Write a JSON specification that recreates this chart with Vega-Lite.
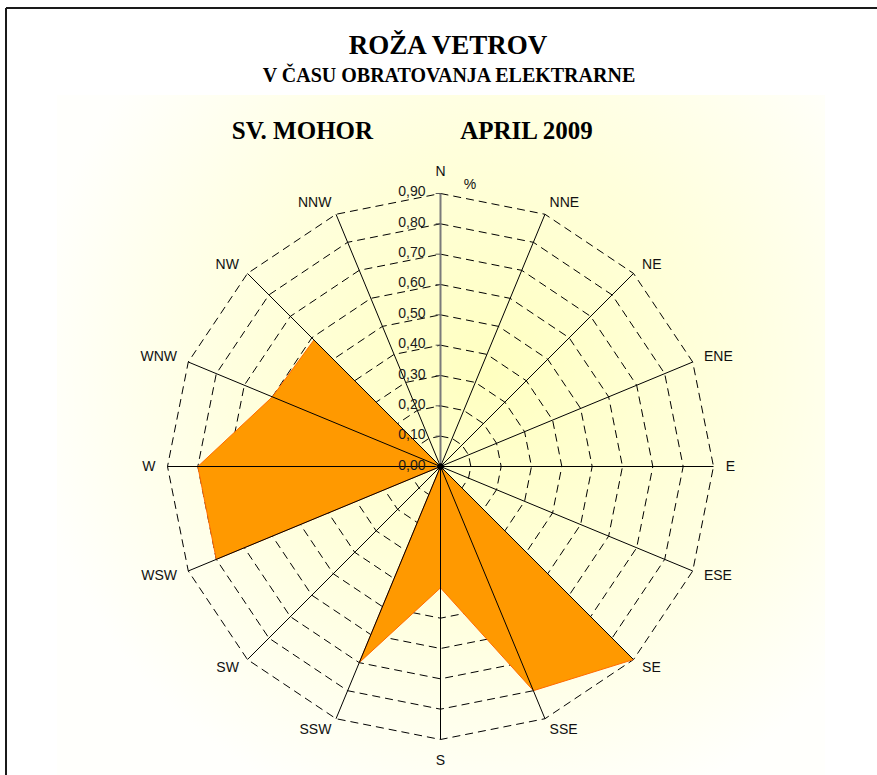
{
  "$schema": "https://vega.github.io/schema/vega-lite/v6.json",
  "width": 877,
  "height": 775,
  "autosize": {"type": "none"},
  "padding": 0,
  "background": "white",
  "config": {"view": {"stroke": null}},
  "datasets": {
    "dirs": [
      {"dir": "N", "i": 0, "pct": 0},
      {"dir": "NNE", "i": 1, "pct": 0},
      {"dir": "NE", "i": 2, "pct": 0},
      {"dir": "ENE", "i": 3, "pct": 0},
      {"dir": "E", "i": 4, "pct": 0},
      {"dir": "ESE", "i": 5, "pct": 0},
      {"dir": "SE", "i": 6, "pct": 0.9},
      {"dir": "SSE", "i": 7, "pct": 0.8},
      {"dir": "S", "i": 8, "pct": 0.4},
      {"dir": "SSW", "i": 9, "pct": 0.7},
      {"dir": "SW", "i": 10, "pct": 0},
      {"dir": "WSW", "i": 11, "pct": 0.8},
      {"dir": "W", "i": 12, "pct": 0.8},
      {"dir": "WNW", "i": 13, "pct": 0.6},
      {"dir": "NW", "i": 14, "pct": 0.59},
      {"dir": "NNW", "i": 15, "pct": 0}
    ],
    "rings": [
      {"level": 0.1, "d": [0,1,2,3,4,5,6,7,8,9,10,11,12,13,14,15,16]},
      {"level": 0.2, "d": [0,1,2,3,4,5,6,7,8,9,10,11,12,13,14,15,16]},
      {"level": 0.3, "d": [0,1,2,3,4,5,6,7,8,9,10,11,12,13,14,15,16]},
      {"level": 0.4, "d": [0,1,2,3,4,5,6,7,8,9,10,11,12,13,14,15,16]},
      {"level": 0.5, "d": [0,1,2,3,4,5,6,7,8,9,10,11,12,13,14,15,16]},
      {"level": 0.6, "d": [0,1,2,3,4,5,6,7,8,9,10,11,12,13,14,15,16]},
      {"level": 0.7, "d": [0,1,2,3,4,5,6,7,8,9,10,11,12,13,14,15,16]},
      {"level": 0.8, "d": [0,1,2,3,4,5,6,7,8,9,10,11,12,13,14,15,16]},
      {"level": 0.9, "d": [0,1,2,3,4,5,6,7,8,9,10,11,12,13,14,15,16]}
    ],
    "ticks": [
      {"level": 0.0, "label": "0,00"},
      {"level": 0.1, "label": "0,10"},
      {"level": 0.2, "label": "0,20"},
      {"level": 0.3, "label": "0,30"},
      {"level": 0.4, "label": "0,40"},
      {"level": 0.5, "label": "0,50"},
      {"level": 0.6, "label": "0,60"},
      {"level": 0.7, "label": "0,70"},
      {"level": 0.8, "label": "0,80"},
      {"level": 0.9, "label": "0,90"}
    ]
  },
  "layer": [
    {
      "data": {"values": [{}]},
      "transform": [
        {"calculate": "-1.264", "as": "bx0"},
        {"calculate": "1.268", "as": "bx1"},
        {"calculate": "1.225", "as": "by0"},
        {"calculate": "-1.017", "as": "by1"}
      ],
      "mark": {"type": "rect", "fill": {"gradient": "radial", "x1": 0.56, "y1": 0.42, "r1": 0, "x2": 0.56, "y2": 0.42, "r2": 0.6, "stops": [{"offset": 0, "color": "#FFFFC0"}, {"offset": 0.5, "color": "#FFFFDC"}, {"offset": 1, "color": "#FFFFFC"}]}},
      "encoding": {
        "x": {"field": "bx0", "type": "quantitative", "scale": {"domain": [-1.4522, 1.43901], "nice": false, "zero": false}, "axis": null},
        "x2": {"field": "bx1"},
        "y": {"field": "by0", "type": "quantitative", "scale": {"domain": [-1.01703, 1.53791], "nice": false, "zero": false}, "axis": null},
        "y2": {"field": "by1"}
      }
    },
    {
      "data": {"values": [{}]},
      "transform": [
        {"calculate": "-1.4324", "as": "fx0"},
        {"calculate": "1.439", "as": "fx1"},
        {"calculate": "1.5115", "as": "fy0"},
        {"calculate": "-1.017", "as": "fy1"}
      ],
      "layer": [
        {
          "mark": {"type": "rule", "stroke": "#1a1a1a", "strokeWidth": 2},
          "encoding": {
            "x": {"field": "fx0", "type": "quantitative", "scale": {"domain": [-1.4522, 1.43901], "nice": false, "zero": false}, "axis": null},
            "y": {"field": "fy0", "type": "quantitative", "scale": {"domain": [-1.01703, 1.53791], "nice": false, "zero": false}, "axis": null},
            "y2": {"field": "fy1"}
          }
        },
        {
          "mark": {"type": "rule", "stroke": "#1a1a1a", "strokeWidth": 2},
          "encoding": {
            "x": {"field": "fx0", "type": "quantitative", "scale": {"domain": [-1.4522, 1.43901], "nice": false, "zero": false}, "axis": null},
            "x2": {"field": "fx1"},
            "y": {"field": "fy0", "type": "quantitative", "scale": {"domain": [-1.01703, 1.53791], "nice": false, "zero": false}, "axis": null}
          }
        }
      ]
    },
    {
      "data": {"name": "rings"},
      "transform": [
        {"flatten": ["d"]},
        {"calculate": "PI/2 - datum.d*PI/8", "as": "t"},
        {"calculate": "datum.level*cos(datum.t)", "as": "gx"},
        {"calculate": "datum.level*sin(datum.t)", "as": "gy"}
      ],
      "mark": {"type": "line", "stroke": "#000000", "strokeWidth": 1, "strokeDash": [8, 5]},
      "encoding": {
        "x": {"field": "gx", "type": "quantitative", "scale": {"domain": [-1.4522, 1.43901], "nice": false, "zero": false}, "axis": null},
        "y": {"field": "gy", "type": "quantitative", "scale": {"domain": [-1.01703, 1.53791], "nice": false, "zero": false}, "axis": null},
        "detail": {"field": "level", "type": "nominal"},
        "order": {"field": "d", "type": "quantitative"}
      }
    },
    {
      "data": {"name": "dirs"},
      "transform": [
        {"calculate": "PI/2 - datum.i*PI/8", "as": "t"},
        {"calculate": "datum.pct*cos(datum.t)", "as": "px"},
        {"calculate": "datum.pct*sin(datum.t)", "as": "py"}
      ],
      "mark": {"type": "line", "interpolate": "linear-closed", "fill": "#FF9900", "stroke": "#FF6A00", "strokeWidth": 1},
      "encoding": {
        "x": {"field": "px", "type": "quantitative", "scale": {"domain": [-1.4522, 1.43901], "nice": false, "zero": false}, "axis": null},
        "y": {"field": "py", "type": "quantitative", "scale": {"domain": [-1.01703, 1.53791], "nice": false, "zero": false}, "axis": null},
        "order": {"field": "i", "type": "quantitative"}
      }
    },
    {
      "data": {"name": "dirs"},
      "transform": [
        {"filter": "datum.i != 0"},
        {"calculate": "PI/2 - datum.i*PI/8", "as": "t"},
        {"calculate": "0.9*cos(datum.t)", "as": "sx"},
        {"calculate": "0.9*sin(datum.t)", "as": "sy"},
        {"calculate": "0", "as": "z"}
      ],
      "mark": {"type": "rule", "stroke": "#000000", "strokeWidth": 1},
      "encoding": {
        "x": {"field": "z", "type": "quantitative", "scale": {"domain": [-1.4522, 1.43901], "nice": false, "zero": false}, "axis": null},
        "y": {"field": "z", "type": "quantitative", "scale": {"domain": [-1.01703, 1.53791], "nice": false, "zero": false}, "axis": null},
        "x2": {"field": "sx"},
        "y2": {"field": "sy"}
      }
    },
    {
      "data": {"values": [{}]},
      "transform": [
        {"calculate": "0", "as": "z"},
        {"calculate": "0.9", "as": "top"}
      ],
      "mark": {"type": "rule", "stroke": "#7a7a7a", "strokeWidth": 2},
      "encoding": {
        "x": {"field": "z", "type": "quantitative", "scale": {"domain": [-1.4522, 1.43901], "nice": false, "zero": false}, "axis": null},
        "y": {"field": "z", "type": "quantitative", "scale": {"domain": [-1.01703, 1.53791], "nice": false, "zero": false}, "axis": null},
        "y2": {"field": "top"}
      }
    },
    {
      "data": {"name": "ticks"},
      "transform": [
        {"calculate": "-0.016", "as": "tx0"},
        {"calculate": "0", "as": "tx1"}
      ],
      "mark": {"type": "rule", "stroke": "#555555", "strokeWidth": 1},
      "encoding": {
        "x": {"field": "tx0", "type": "quantitative", "scale": {"domain": [-1.4522, 1.43901], "nice": false, "zero": false}, "axis": null},
        "x2": {"field": "tx1"},
        "y": {"field": "level", "type": "quantitative", "scale": {"domain": [-1.01703, 1.53791], "nice": false, "zero": false}, "axis": null}
      }
    },
    {
      "data": {"name": "ticks"},
      "mark": {"type": "text", "align": "right", "baseline": "middle", "dx": -15, "dy": -1, "font": "Liberation Sans", "fontSize": 14, "fill": "#1a1a1a"},
      "encoding": {
        "x": {"datum": 0, "type": "quantitative", "scale": {"domain": [-1.4522, 1.43901], "nice": false, "zero": false}, "axis": null},
        "y": {"field": "level", "type": "quantitative", "scale": {"domain": [-1.01703, 1.53791], "nice": false, "zero": false}, "axis": null},
        "text": {"field": "label", "type": "nominal"}
      }
    },
    {
      "data": {"values": [{}]},
      "mark": {"type": "point", "filled": true, "fill": "#000000", "size": 45, "opacity": 1},
      "encoding": {
        "x": {"datum": 0, "type": "quantitative", "scale": {"domain": [-1.4522, 1.43901], "nice": false, "zero": false}, "axis": null},
        "y": {"datum": 0, "type": "quantitative", "scale": {"domain": [-1.01703, 1.53791], "nice": false, "zero": false}, "axis": null}
      }
    },
    {
      "data": {"name": "dirs"},
      "transform": [
        {"filter": "datum.i >= 1 && datum.i <= 7"},
        {"calculate": "PI/2 - datum.i*PI/8", "as": "t"},
        {"calculate": "0.94*cos(datum.t)", "as": "lx"},
        {"calculate": "0.94*sin(datum.t)", "as": "ly"}
      ],
      "mark": {"type": "text", "align": "left", "baseline": "middle", "font": "Liberation Sans", "fontSize": 14, "fill": "#111111"},
      "encoding": {
        "x": {"field": "lx", "type": "quantitative", "scale": {"domain": [-1.4522, 1.43901], "nice": false, "zero": false}, "axis": null},
        "y": {"field": "ly", "type": "quantitative", "scale": {"domain": [-1.01703, 1.53791], "nice": false, "zero": false}, "axis": null},
        "text": {"field": "dir", "type": "nominal"}
      }
    },
    {
      "data": {"name": "dirs"},
      "transform": [
        {"filter": "datum.i >= 9 && datum.i <= 15"},
        {"calculate": "PI/2 - datum.i*PI/8", "as": "t"},
        {"calculate": "0.94*cos(datum.t)", "as": "lx"},
        {"calculate": "0.94*sin(datum.t)", "as": "ly"}
      ],
      "mark": {"type": "text", "align": "right", "baseline": "middle", "font": "Liberation Sans", "fontSize": 14, "fill": "#111111"},
      "encoding": {
        "x": {"field": "lx", "type": "quantitative", "scale": {"domain": [-1.4522, 1.43901], "nice": false, "zero": false}, "axis": null},
        "y": {"field": "ly", "type": "quantitative", "scale": {"domain": [-1.01703, 1.53791], "nice": false, "zero": false}, "axis": null},
        "text": {"field": "dir", "type": "nominal"}
      }
    },
    {
      "data": {"name": "dirs"},
      "transform": [
        {"filter": "datum.i == 0 || datum.i == 8"},
        {"calculate": "PI/2 - datum.i*PI/8", "as": "t"},
        {"calculate": "0.97*cos(datum.t)", "as": "lx"},
        {"calculate": "0.97*sin(datum.t)", "as": "ly"}
      ],
      "mark": {"type": "text", "align": "center", "baseline": "middle", "font": "Liberation Sans", "fontSize": 14, "fill": "#111111"},
      "encoding": {
        "x": {"field": "lx", "type": "quantitative", "scale": {"domain": [-1.4522, 1.43901], "nice": false, "zero": false}, "axis": null},
        "y": {"field": "ly", "type": "quantitative", "scale": {"domain": [-1.01703, 1.53791], "nice": false, "zero": false}, "axis": null},
        "text": {"field": "dir", "type": "nominal"}
      }
    },
    {
      "data": {"values": [{}]},
      "mark": {"type": "text", "align": "center", "baseline": "middle", "font": "Liberation Sans", "fontSize": 14, "fill": "#111111", "text": "%"},
      "encoding": {
        "x": {"datum": 0.0973, "type": "quantitative", "scale": {"domain": [-1.4522, 1.43901], "nice": false, "zero": false}, "axis": null},
        "y": {"datum": 0.928, "type": "quantitative", "scale": {"domain": [-1.01703, 1.53791], "nice": false, "zero": false}, "axis": null}
      }
    },
    {
      "data": {"values": [{}]},
      "mark": {"type": "text", "align": "center", "baseline": "middle", "font": "Liberation Serif", "fontWeight": "bold", "fontSize": 27, "fill": "#000000", "text": "ROŽA VETROV"},
      "encoding": {
        "x": {"datum": 0.0247, "type": "quantitative", "scale": {"domain": [-1.4522, 1.43901], "nice": false, "zero": false}, "axis": null},
        "y": {"datum": 1.3862, "type": "quantitative", "scale": {"domain": [-1.01703, 1.53791], "nice": false, "zero": false}, "axis": null}
      }
    },
    {
      "data": {"values": [{}]},
      "mark": {"type": "text", "align": "center", "baseline": "middle", "font": "Liberation Serif", "fontWeight": "bold", "fontSize": 20, "fill": "#000000", "text": "V ČASU OBRATOVANJA ELEKTRARNE"},
      "encoding": {
        "x": {"datum": 0.028, "type": "quantitative", "scale": {"domain": [-1.4522, 1.43901], "nice": false, "zero": false}, "axis": null},
        "y": {"datum": 1.2874, "type": "quantitative", "scale": {"domain": [-1.01703, 1.53791], "nice": false, "zero": false}, "axis": null}
      }
    },
    {
      "data": {"values": [{}]},
      "mark": {"type": "text", "align": "center", "baseline": "middle", "font": "Liberation Serif", "fontWeight": "bold", "fontSize": 25, "fill": "#000000", "text": "SV. MOHOR"},
      "encoding": {
        "x": {"datum": -0.455, "type": "quantitative", "scale": {"domain": [-1.4522, 1.43901], "nice": false, "zero": false}, "axis": null},
        "y": {"datum": 1.106, "type": "quantitative", "scale": {"domain": [-1.01703, 1.53791], "nice": false, "zero": false}, "axis": null}
      }
    },
    {
      "data": {"values": [{}]},
      "mark": {"type": "text", "align": "center", "baseline": "middle", "font": "Liberation Serif", "fontWeight": "bold", "fontSize": 25, "fill": "#000000", "text": "APRIL 2009"},
      "encoding": {
        "x": {"datum": 0.2835, "type": "quantitative", "scale": {"domain": [-1.4522, 1.43901], "nice": false, "zero": false}, "axis": null},
        "y": {"datum": 1.106, "type": "quantitative", "scale": {"domain": [-1.01703, 1.53791], "nice": false, "zero": false}, "axis": null}
      }
    }
  ]
}
